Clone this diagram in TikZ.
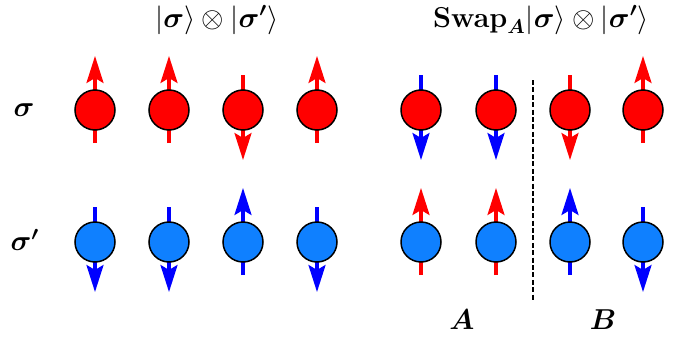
\documentclass[tikz,border=0pt]{standalone}
\usepackage{amsmath,bm}
\usetikzlibrary{arrows.meta}
\definecolor{spinblue}{RGB}{15,128,255}
\newcommand{\spinup}[5]{%
  \coordinate (#1-tail) at (#2,#3+33);
  \coordinate (#1-tip) at (#2,#3-54);
  \draw[spinarrow,#5] (#1-tail) -- (#1-tip);
  \node[site,fill=#4] (#1) at (#2,#3) {};
}
\newcommand{\spindown}[5]{%
  \coordinate (#1-tail) at (#2,#3-35);
  \coordinate (#1-tip) at (#2,#3+50);
  \draw[spinarrow,#5] (#1-tail) -- (#1-tip);
  \node[site,fill=#4] (#1) at (#2,#3) {};
}
\begin{document}
\begin{tikzpicture}[x=0.5pt,y=-0.5pt,
  site/.style={circle,draw=black,line width=0.75pt,minimum size=20pt,inner sep=0pt},
  spinarrow/.style={line width=1.6pt,-{Stealth[length=13.5pt,width=8.5pt,inset=2.5pt]}},
  lbl/.style={font=\Large,inner sep=0pt}]
\useasboundingbox (0,0) rectangle (680,337);
% top row (sigma)
\spinup{t1}{95}{110}{red}{red}
\spinup{t2}{169}{110}{red}{red}
\spindown{t3}{243}{110}{red}{red}
\spinup{t4}{317}{110}{red}{red}
\spindown{t5}{421}{110}{red}{blue}
\spindown{t6}{496}{110}{red}{blue}
\spindown{t7}{570}{110}{red}{red}
\spinup{t8}{643}{110}{red}{red}
% bottom row (sigma')
\spindown{b1}{95}{242}{spinblue}{blue}
\spindown{b2}{169}{242}{spinblue}{blue}
\spinup{b3}{243}{242}{spinblue}{blue}
\spindown{b4}{317}{242}{spinblue}{blue}
\spinup{b5}{421}{242}{spinblue}{red}
\spinup{b6}{496}{242}{spinblue}{red}
\spinup{b7}{570}{242}{spinblue}{blue}
\spindown{b8}{643}{242}{spinblue}{blue}
% dashed separator
\coordinate (dtop) at (533,80);
\coordinate (dbot) at (533,300);
\draw[line width=1.3pt,dash pattern=on 2.5pt off 1.2pt] (dtop) -- (dbot);
% labels
\node[lbl] (title1) at (217,20) {$|\bm{\sigma}\rangle\otimes|\bm{\sigma'}\rangle$};
\node[lbl] (title2) at (541,20) {$\mathbf{Swap}_{\bm{A}}|\bm{\sigma}\rangle\otimes|\bm{\sigma'}\rangle$};
\node[lbl] (lsig) at (24,110) {$\bm{\sigma}$};
\node[lbl] (lsigp) at (25,240) {$\bm{\sigma'}$};
\node[lbl] (lA) at (462,320) {$\bm{A}$};
\node[lbl] (lB) at (603,320) {$\bm{B}$};
\end{tikzpicture}
\end{document}
